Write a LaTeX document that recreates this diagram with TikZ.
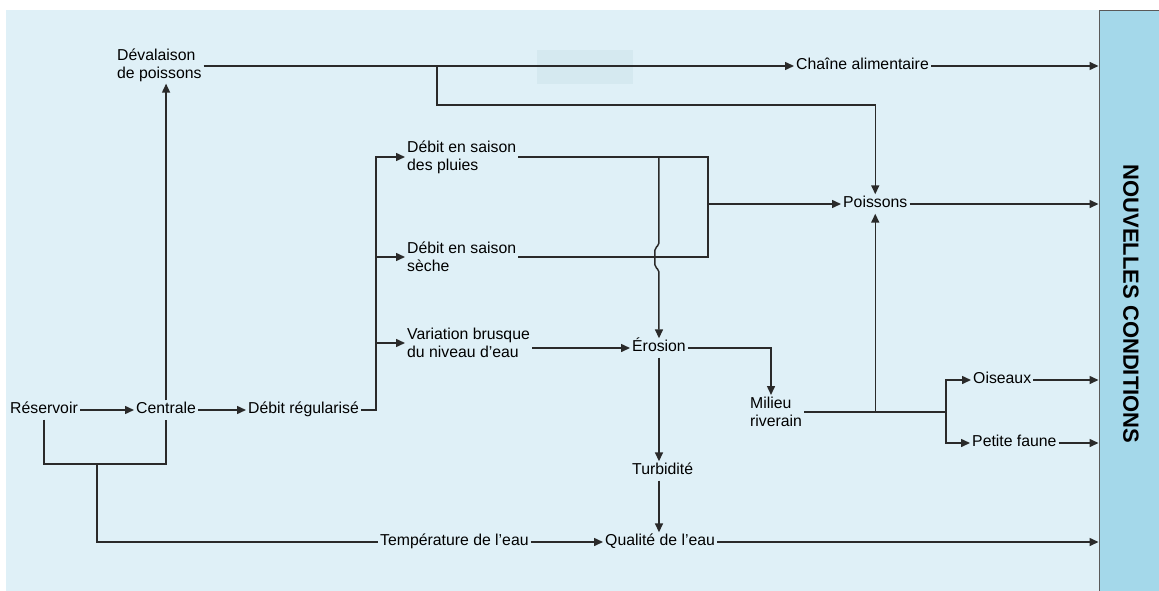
\documentclass[tikz,border=0pt]{standalone}
\usepackage{fontspec}
\usepackage{graphicx}
\setmainfont{Liberation Sans}
\usetikzlibrary{arrows.meta}
\definecolor{bgblue}{HTML}{DFF0F7}
\definecolor{barblue}{HTML}{A4D8EA}
\definecolor{patch}{HTML}{D5E9F0}
\definecolor{ln}{HTML}{2A2A2A}
\tikzset{
  lbl/.style={inner sep=2pt, anchor=west, align=left, font=\fontsize{15.8}{18}\selectfont, text height=11pt, text depth=4pt},
  lbltwo/.style={inner sep=2pt, anchor=west, align=left, font=\fontsize{15.8}{18}\selectfont},
  conn/.style={draw=ln, line width=1.5pt},
  arr/.style={conn, -{Triangle[length=9pt,width=8pt]}},
}
\begin{document}
\begin{tikzpicture}[x=1pt,y=-1pt]
\useasboundingbox (0,0) rectangle (1159,591);
\fill[white] (0,0) rectangle (1159,591);
\fill[bgblue] (6,10) rectangle (1099,591);
\fill[patch] (537,50) rectangle (633,84);
\node[draw=gray!70!black, fill=barblue, line width=1pt, minimum width=60pt, minimum height=590pt, inner sep=0pt] (nc) at (1129,305.5) {};
\node at (1131,304) {\rotatebox{-90}{\fontsize{22}{24}\selectfont\bfseries NOUVELLES CONDITIONS}};
% nodes
\node[lbltwo] (dev) at (115,65) {Dévalaison\\de poissons};
\node[lbl] (chaine) at (794,66) {Chaîne alimentaire};
\node[lbl] (pois) at (841,204) {Poissons};
\node[lbltwo] (pluies) at (405,157) {Débit en saison\\des pluies};
\node[lbltwo] (seche) at (405,257) {Débit en saison\\sèche};
\node[lbltwo] (var) at (405,343) {Variation brusque\\du niveau d’eau};
\node[lbl] (ero) at (630,348) {Érosion};
\node[lbltwo] (mil) at (748,412) {Milieu\\riverain};
\node[lbl] (ois) at (971,380) {Oiseaux};
\node[lbl] (pf) at (970,443) {Petite faune};
\node[lbl] (turb) at (630,471) {Turbidité};
\node[lbl] (qual) at (603,542) {Qualité de l’eau};
\node[lbl] (temp) at (378,542) {Température de l’eau};
\node[lbl] (res) at (8,410) {Réservoir};
\node[lbl] (cent) at (134,410) {Centrale};
\node[lbl] (debreg) at (246,410) {Débit régularisé};
% coordinates
\coordinate (j1) at (97,464);
\coordinate (vb) at (376,410);
\coordinate (b1) at (437,66);
\coordinate (b2) at (437,105);
\coordinate (r1) at (708,204);
\coordinate (m1) at (771,348);
\coordinate (b5) at (946,412);
% connectors
\draw[arr] (res.east) -- (cent.west);
\draw[arr] (cent.east) -- (debreg.west);
\draw[arr] (cent.north) -- (cent.north |- dev.south);
\draw[conn] (res.south) |- (j1) -| (cent.south);
\draw[conn] (j1) |- (temp.west);
\draw[arr] (temp.east) -- (qual.west);
\draw[arr] (debreg.east) -- (vb) |- (pluies.west);
\draw[arr] (vb |- seche.west) -- (seche.west);
\draw[arr] (vb |- var.west) -- (var.west);
\draw[arr] (dev.east |- b1) -- (chaine.west);
\draw[draw=ln, line width=2.6pt] (537,66) -- (633,66);
\draw[arr] (b1) -- (b2) -| (pois.north);
\draw[conn] (pluies.east) -| (r1) |- (seche.east);
\draw[arr] (r1) -- (pois.west);
\draw[arr, rounded corners=2pt] (ero.north |- pluies.east) -- ++(0,88) -- ++(-4,3) -- ++(0,19) -- ++(4,3) -- (ero.north);
\draw[arr] (var.east |- ero.west) -- (ero.west);
\draw[arr] (ero.east) -- (m1) -- (m1 |- mil.north);
\draw[conn] (mil.east) -- (b5);
\draw[arr] (pois.south |- mil.east) -- (pois.south);
\draw[arr] (b5) |- (ois.west);
\draw[arr] (b5) |- (pf.west);
\draw[arr] (ero.south) -- (ero.south |- turb.north);
\draw[arr] (ero.south |- turb.south) -- (ero.south |- qual.north);
\draw[arr] (chaine.east) -- (chaine.east -| nc.west);
\draw[arr] (pois.east) -- (pois.east -| nc.west);
\draw[arr] (ois.east) -- (ois.east -| nc.west);
\draw[arr] (pf.east) -- (pf.east -| nc.west);
\draw[arr] (qual.east) -- (qual.east -| nc.west);
\end{tikzpicture}
\end{document}
